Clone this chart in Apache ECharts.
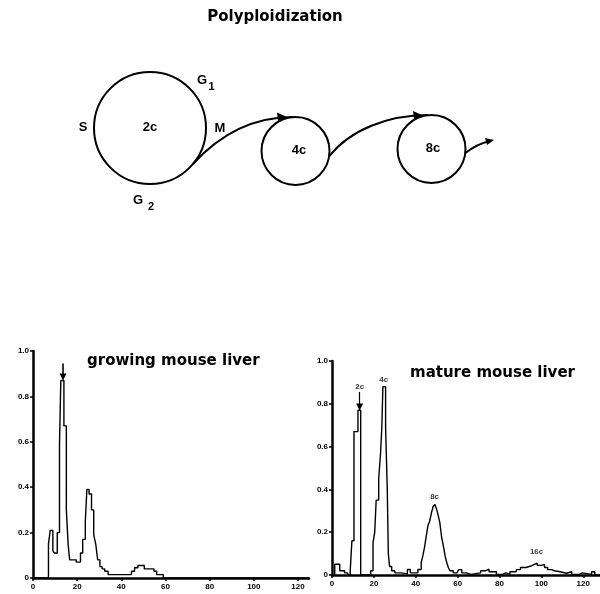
<!DOCTYPE html>
<html>
<head>
<meta charset="utf-8">
<title>Polyploidization</title>
<script src="https://cdn.jsdelivr.net/npm/echarts@6/dist/echarts.min.js"></script>
<style>
  html, body { margin: 0; padding: 0; background: #fff; }
</style>
</head>
<body>
<div id="main" style="width:600px;height:594px;"></div>
<script>
// DNA content channel (left bin edge) and relative frequency, growing liver
var growingX = [0, 7, 7.8, 9, 9.7, 11, 12, 12.6, 14, 15.1, 15.9, 16.6, 19.6, 21.5, 22.5, 23.7, 24.4, 25.4, 26.5, 27.5,
  28.4, 29.3, 30.3, 31.3, 32.5, 34, 44.6, 46, 47.5, 50.4, 54.8, 56, 59, 125];
var growingY = [0, 0.15, 0.21, 0.12, 0.11, 0.2, 0.59, 0.87, 0.67, 0.3, 0.15, 0.08, 0.07, 0.11, 0.17, 0.25, 0.39, 0.37, 0.3, 0.19,
  0.15, 0.08, 0.05, 0.04, 0.03, 0.015, 0.03, 0.045, 0.055, 0.04, 0.03, 0.015, 0, 0];

// mature liver
var matureX = [0, 1.3, 3.7, 6, 7.5, 8.7, 9.5, 10.5, 12.4, 13.7, 18.5, 19.6, 20.4, 21.1, 22.3, 23.2, 23.8, 24.3, 25.6, 26.4,
  26.9, 27.5, 28.5, 30, 33, 36, 37.4, 41, 42.6, 43.4, 44.2, 45, 45.8, 46.6, 47.5, 48.3, 49.1, 49.9, 50.7, 51.5,
  52.3, 53.2, 54, 54.8, 55.6, 56.4, 57.9, 59.7, 60.5, 62, 64, 66.5, 71, 73.5, 75, 78.5, 81.5, 83, 85, 88,
  90, 92.6, 95, 96.6, 98, 100, 101.5, 103, 105, 106, 109, 112, 114.5, 118, 119.6, 124, 125.5, 128];
var matureY = [0, 0.05, 0.02, 0.01, 0, 0.02, 0.16, 0.67, 0.77, 0, 0.02, 0.15, 0.2, 0.35, 0.45, 0.57, 0.69, 0.88, 0.69, 0.4,
  0.1, 0.04, 0.02, 0.01, 0.005, 0.026, 0.01, 0.026, 0.058, 0.09, 0.13, 0.18, 0.23, 0.25, 0.29, 0.32, 0.33, 0.31, 0.28, 0.245,
  0.18, 0.135, 0.09, 0.058, 0.034, 0.02, 0.01, 0.005, 0.025, 0.01, 0.003, 0.01, 0.02, 0.027, 0.015, 0.003, 0.01, 0.003, 0.015, 0.025,
  0.035, 0.042, 0.05, 0.055, 0.045, 0.05, 0.035, 0.025, 0.02, 0.015, 0.008, 0.015, 0.003, 0.01, 0.003, 0.015, 0, 0];

// peak labels on the mature histogram
var peakNames = ['2c', '4c', '8c', '16c'];
var peakX = [13.2, 24.7, 49, 97.7];
var peakY = [0.88, 0.91, 0.365, 0.107];

var xTicks = [0, 20, 40, 60, 80, 100, 120];
var yTicks = [0, 0.2, 0.4, 0.6, 0.8, 1.0];

function pairs(xs, ys) {
  var out = [];
  for (var i = 0; i < xs.length; i++) out.push([xs[i], ys[i]]);
  return out;
}

var myChart = echarts.init(document.getElementById('main'));

var lblFont = { color: '#000', fontSize: 8, fontWeight: 'bold', fontFamily: 'Liberation Sans, Arial, sans-serif' };
function xAx(idx, max) {
  return {
    type: 'value', gridIndex: idx, min: 0, max: max, interval: 20,
    axisLine: { lineStyle: { color: '#000', width: 2.5 } },
    axisTick: { length: 3, lineStyle: { color: '#000', width: 1.5 }, customValues: xTicks },
    axisLabel: Object.assign({ margin: 5, customValues: xTicks,
      formatter: function (v) { return v % 20 === 0 ? String(v) : ''; } }, lblFont),
    splitLine: { show: false }
  };
}
function yAx(idx) {
  return {
    type: 'value', gridIndex: idx, min: 0, max: 1, interval: 0.2,
    axisLine: { show: true, lineStyle: { color: '#000', width: 2.5 } },
    axisTick: { show: true, length: 3, lineStyle: { color: '#000', width: 1.5 }, customValues: yTicks },
    axisLabel: Object.assign({ margin: 4, customValues: yTicks,
      formatter: function (v) { return v === 0 ? '0' : v.toFixed(1); } }, lblFont),
    splitLine: { show: false }
  };
}

var bigFont = 'bold 13px "Liberation Sans", Arial, sans-serif';
var subFont = 'bold 11px "Liberation Sans", Arial, sans-serif';
function txt(s, x, y, font) {
  return { type: 'text', style: { text: s, x: x, y: y, font: font || bigFont, fill: '#000',
    align: 'center', verticalAlign: 'middle', textAlign: 'center', textVerticalAlign: 'middle' } };
}
var stroke = { stroke: '#000', lineWidth: 2, fill: null };
var arrowLine = function (x, y0, y1, w) {
  return {
    silent: true, symbol: ['none', 'triangle'], symbolSize: 7, label: { show: false },
    lineStyle: { color: '#000', width: w, type: 'solid' },
    data: [[{ coord: [x, y0] }, { coord: [x, y1] }]]
  };
};

myChart.setOption({
  animation: false,
  backgroundColor: '#fff',
  title: [
    { text: 'growing mouse liver', left: 82, top: 349,
      textStyle: { fontSize: 15, fontWeight: 'bold', fontFamily: 'DejaVu Sans', color: '#000' } },
    { text: 'mature mouse liver', left: 405, top: 361,
      textStyle: { fontSize: 15, fontWeight: 'bold', fontFamily: 'DejaVu Sans', color: '#000' } }
  ],
  grid: [
    { left: 33, top: 351, width: 276, height: 227 },
    { left: 332, top: 361, width: 268, height: 214 }
  ],
  xAxis: [xAx(0, 125), xAx(1, 128)],
  yAxis: [yAx(0), yAx(1)],
  series: [
    {
      type: 'line', xAxisIndex: 0, yAxisIndex: 0, step: 'end', showSymbol: false,
      lineStyle: { color: '#000', width: 1.4 },
      data: pairs(growingX, growingY),
      markLine: arrowLine(13.6, 0.945, 0.885, 1.6)
    },
    {
      type: 'line', xAxisIndex: 1, yAxisIndex: 1, step: 'end', showSymbol: false,
      lineStyle: { color: '#000', width: 1.4 },
      data: pairs(matureX, matureY),
      markLine: arrowLine(13.2, 0.855, 0.785, 1.2)
    },
    {
      type: 'scatter', xAxisIndex: 1, yAxisIndex: 1, symbolSize: 0,
      label: { show: true, position: 'inside', color: '#000', fontSize: 8, fontWeight: 'bold',
        fontFamily: 'Liberation Sans, Arial, sans-serif',
        formatter: function (p) { return peakNames[p.dataIndex]; } },
      data: pairs(peakX, peakY)
    }
  ],
  graphic: [
    txt('Polyploidization', 275, 17, 'bold 15px "DejaVu Sans", sans-serif'),
    { type: 'circle', shape: { cx: 150, cy: 128, r: 56 }, style: stroke },
    { type: 'circle', shape: { cx: 295.5, cy: 151, r: 34 }, style: stroke },
    { type: 'circle', shape: { cx: 431.5, cy: 149, r: 34 }, style: stroke },
    { type: 'bezierCurve', shape: { x1: 193, y1: 164, cpx1: 222, cpy1: 132, cpx2: 255, cpy2: 117, x2: 293, y2: 117 }, style: stroke },
    { type: 'polygon', shape: { points: [[287, 117], [277, 112.5], [278, 121]] }, style: { fill: '#000' } },
    { type: 'bezierCurve', shape: { x1: 329.5, y1: 156, cpx1: 350, cpy1: 130, cpx2: 388, cpy2: 115, x2: 428, y2: 115 }, style: stroke },
    { type: 'polygon', shape: { points: [[423, 115.5], [413, 111], [414, 119.5]] }, style: { fill: '#000' } },
    { type: 'bezierCurve', shape: { x1: 465.5, y1: 153, cpx1: 473, cpy1: 147, cpx2: 481, cpy2: 143, x2: 490, y2: 141 }, style: stroke },
    { type: 'polygon', shape: { points: [[494, 140], [485, 138], [487, 145]] }, style: { fill: '#000' } },
    txt('S', 83, 127),
    txt('2c', 150, 127),
    txt('M', 220, 128),
    txt('G', 202, 80),
    txt('1', 211.5, 87, subFont),
    txt('G', 138, 200),
    txt('2', 151, 207, subFont),
    txt('4c', 299, 150),
    txt('8c', 433, 148)
  ]
});
</script>
</body>
</html>
